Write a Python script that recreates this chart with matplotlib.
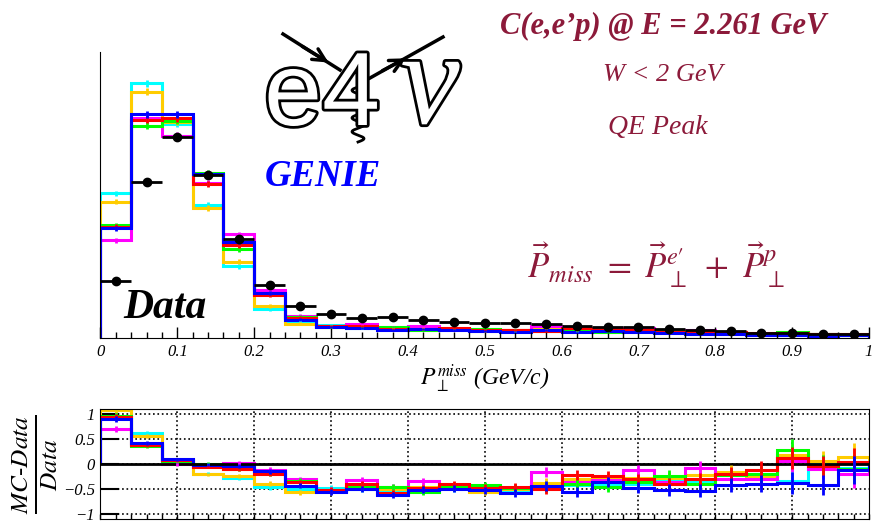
import numpy as np
import matplotlib.pyplot as plt
import matplotlib.patheffects as pe

plt.rcParams['font.family'] = ['Liberation Serif', 'DejaVu Serif']
plt.rcParams['mathtext.fontset'] = 'stix'

# 25 bins of 0.04 GeV/c in P_perp^miss
edges = np.linspace(0.0, 1.0, 26)
centers = 0.5 * (edges[:-1] + edges[1:])

# data (arbitrary units)
data = [57.3, 156.3, 201, 163, 98.7, 53.4, 32, 24.5, 20.3, 20.7, 18.3, 16.5, 15.2,
        15.2, 13.8, 12.5, 11.2, 11.2, 9.5, 8.3, 7.0, 5.5, 4.6, 4.0, 3.6]
data_err = [2, 3, 3.5, 3, 2.5, 2, 1.5, 1.3, 1.2, 1.2, 1.1, 1, 1, 1, 1, 1, 0.9, 0.9,
            0.8, 0.8, 0.7, 0.7, 0.6, 0.6, 0.6]

# GENIE tunes (top panel)
mc_cyan = [144.7, 254.7, 214, 133, 72, 28.7, 16.3, 12.7, 10.4, 9.7, 9.2, 8.6, 7.8,
           7.4, 7.7, 7.3, 6.6, 6.7, 6.7, 5.4, 5.7, 4.4, 3.1, 4.0, 3.3]
mc_orange = [136.3, 246.3, 216.3, 129.7, 76.3, 32.3, 14.1, 11.3, 11.8, 10.4, 9.9, 9.4,
             6.8, 7.8, 8.7, 8.8, 8.2, 8.1, 6.9, 6.5, 5.9, 4.2, 5.4, 4.3, 4.1]
mc_magenta = [98, 220, 202, 155.3, 103.7, 48, 22.4, 11.8, 13.8, 11.2, 12.1, 9.2, 8.5,
              7.9, 11.6, 8.1, 7.6, 9.9, 6.1, 7.7, 4.9, 3.9, 4.9, 3.6, 2.9]
mc_green = [113, 212, 217, 165.3, 88.7, 44, 21.4, 11.5, 11.0, 11.2, 8.2, 8.9, 8.8,
            7.9, 7.5, 7.6, 6.0, 7.2, 7.3, 5.0, 5.5, 4.4, 5.9, 3.9, 3.2]
mc_red = [111.3, 218, 219.7, 154, 93, 43, 20.5, 12.0, 12.4, 8.9, 9.5, 9.9, 8.1, 8.2,
          6.9, 9.8, 8.6, 7.8, 5.8, 5.8, 5.6, 4.9, 5.2, 3.9, 3.8]
mc_blue = [109.7, 223.7, 223.7, 164, 96.3, 44.7, 18.2, 10.8, 10.2, 8.1, 9.0, 8.4, 7.3,
           6.5, 7.9, 5.6, 7.2, 5.9, 4.7, 3.9, 4.1, 3.4, 2.9, 2.4, 3.2]
mc_err = [2.5, 3.5, 3.5, 3, 2.5, 2, 1.5, 1.2, 1.1, 1.1, 1, 1, 0.9, 0.9, 0.9, 0.9, 0.8,
          0.8, 0.8, 0.7, 0.7, 0.7, 0.7, 0.6, 0.6]

# (MC-Data)/Data (bottom panel)
r_cyan = [1.09, 0.62, 0.06, -0.19, -0.28, -0.46, -0.49, -0.48, -0.49, -0.53, -0.50,
          -0.48, -0.49, -0.51, -0.44, -0.42, -0.41, -0.40, -0.30, -0.35, -0.18, -0.20,
          -0.33, 0.00, -0.07]
r_orange = [1.08, 0.57, 0.07, -0.20, -0.23, -0.39, -0.56, -0.54, -0.42, -0.50, -0.46,
            -0.43, -0.55, -0.49, -0.37, -0.30, -0.27, -0.28, -0.27, -0.22, -0.16, -0.24,
            0.18, 0.07, 0.15]
r_magenta = [0.71, 0.40, 0.00, -0.03, 0.02, -0.11, -0.30, -0.52, -0.32, -0.46, -0.34,
             -0.44, -0.44, -0.48, -0.16, -0.35, -0.32, -0.12, -0.36, -0.07, -0.30, -0.30,
             0.07, -0.10, -0.20]
r_green = [0.97, 0.36, 0.07, 0.01, -0.10, -0.18, -0.33, -0.53, -0.46, -0.46, -0.55,
           -0.46, -0.42, -0.48, -0.46, -0.39, -0.46, -0.36, -0.23, -0.40, -0.22, -0.20,
           0.28, -0.02, -0.10]
r_red = [0.95, 0.39, 0.08, -0.05, -0.09, -0.19, -0.36, -0.51, -0.39, -0.57, -0.48,
         -0.40, -0.47, -0.46, -0.50, -0.22, -0.23, -0.30, -0.39, -0.30, -0.20, -0.11,
         0.13, -0.03, 0.05]
r_blue = [0.91, 0.43, 0.10, -0.01, -0.03, -0.14, -0.43, -0.56, -0.50, -0.61, -0.51,
          -0.49, -0.52, -0.57, -0.43, -0.55, -0.36, -0.47, -0.51, -0.53, -0.42, -0.39,
          -0.38, -0.41, -0.11]
r_err = [0.06, 0.04, 0.03, 0.03, 0.04, 0.05, 0.05, 0.06, 0.06, 0.06, 0.07, 0.07, 0.07,
         0.08, 0.1, 0.1, 0.1, 0.11, 0.12, 0.13, 0.14, 0.17, 0.22, 0.2, 0.28]

colors = ['#00ffff', '#ffcc00', '#ff00ff', '#00ff00', '#ff0000', '#0000ff']
mc_all = [mc_cyan, mc_orange, mc_magenta, mc_green, mc_red, mc_blue]
r_all = [r_cyan, r_orange, r_magenta, r_green, r_red, r_blue]

dark_red = '#8c1a3a'

fig = plt.figure(figsize=(8.73, 5.23), dpi=100)

# ---- top panel
ax = fig.add_axes([0.1151, 0.3537, 0.8803, 0.5469])
for vals, c in zip(mc_all, colors):
    ax.stairs(vals, edges, color=c, lw=2.2)
    ax.errorbar(centers, vals, yerr=mc_err, fmt='none', ecolor=c, elinewidth=2)
ax.errorbar(centers, data, xerr=0.02, yerr=data_err, fmt='o', color='k', ms=6,
            elinewidth=2, zorder=5)
ax.set_xlim(0, 1)
ax.set_ylim(0, 286)
ax.set_yticks([])
ax.spines['top'].set_visible(False)
ax.spines['right'].set_visible(False)
ax.set_xticks(np.linspace(0, 1, 11))
ax.set_xticks(np.linspace(0, 1, 51), minor=True)
ax.set_xticklabels(['0', '0.1', '0.2', '0.3', '0.4', '0.5', '0.6', '0.7', '0.8', '0.9', '1'],
                   fontstyle='italic', fontsize=12)
ax.tick_params(axis='x', which='major', direction='in', length=8, width=1, pad=4)
ax.tick_params(axis='x', which='minor', direction='in', length=4.5, width=1)
ax.set_xlabel(r'$P_{\perp}^{miss}$ (GeV/c)', fontsize=17, fontstyle='italic', labelpad=2)

# ---- ratio panel
ax2 = fig.add_axes([0.1151, 0.0076, 0.8803, 0.2098])
for vals, c in zip(r_all, colors):
    ax2.stairs(vals, edges, color=c, lw=2.2)
    ax2.errorbar(centers, vals, yerr=r_err, fmt='none', ecolor=c, elinewidth=2)
ax2.axhline(0, color='k', lw=2, zorder=1)
ax2.set_xlim(0, 1)
ax2.set_ylim(-1.1, 1.1)
ax2.set_xticks(np.linspace(0.1, 0.9, 9))
ax2.set_xticks(np.linspace(0, 1, 51), minor=True)
ax2.set_xticklabels([])
ax2.set_yticks([-1, -0.5, 0, 0.5, 1])
ax2.set_yticklabels(['\u22121', '\u22120.5', '0', '0.5', '1'], fontstyle='italic', fontsize=12)
ax2.tick_params(axis='x', which='both', direction='in', length=3.5, width=1)
ax2.tick_params(axis='y', direction='in', length=14, width=1.5, pad=4)
ax2.grid(True, which='major', ls=':', color='k', lw=1.2)
ax2.set_axisbelow(True)
ax2.set_ylabel(r'$\frac{MC\text{-}Data}{Data}$', fontsize=26, labelpad=2)

# ---- annotations, in pixel coordinates
ov = fig.add_axes([0, 0, 1, 1])
ov.set_xlim(0, 873)
ov.set_ylim(523, 0)
ov.axis('off')

ov.text(663, 26, 'C(e,e\u2019p) @ E = 2.261 GeV', color=dark_red, fontsize=22,
        fontweight='bold', fontstyle='italic', ha='center', va='center')
ov.text(663, 75, 'W < 2 GeV', color=dark_red, fontsize=19, fontstyle='italic',
        ha='center', va='center')
ov.text(658, 128, 'QE Peak', color=dark_red, fontsize=20, fontstyle='italic',
        ha='center', va='center')
ov.text(656, 265, r'$\vec{P}_{miss}\ =\ \vec{P}_{\perp}^{e\prime}\ +\ \vec{P}_{\perp}^{p}$',
        color=dark_red, fontsize=25, ha='center', va='center')
ov.text(323, 177, 'GENIE', color='#0000ff', fontsize=26.5, fontweight='bold',
        fontstyle='italic', ha='center', va='center')
ov.text(165, 308, 'Data', color='k', fontsize=30, fontweight='bold',
        fontstyle='italic', ha='center', va='center')

# e4nu logo
outline = [pe.withStroke(linewidth=4, foreground='black')]
ov.text(322, 125, 'e4', family='Liberation Sans', fontsize=75, color='white',
        ha='center', va='baseline', path_effects=outline)
ov.text(430, 123, '\u03bd', fontsize=96, fontstyle='italic', color='white',
        ha='center', va='baseline', path_effects=outline)
wy = np.linspace(80, 142, 200)
ov.plot(358 + 6 * np.sin((wy - 80) / 62 * 2 * np.pi * 4.5), wy, color='k', lw=2)
ov.plot([283, 340], [34, 70], color='k', lw=2.5)
ov.annotate('', xy=(331, 64), xytext=(300, 45),
            arrowprops=dict(arrowstyle='->', lw=2.5, mutation_scale=22, color='k'))
ov.plot([370, 443], [78, 37], color='k', lw=2.5)
ov.annotate('', xy=(408, 57), xytext=(380, 72),
            arrowprops=dict(arrowstyle='->', lw=2.5, mutation_scale=22, color='k'))

fig.savefig('out.png', dpi=100)
